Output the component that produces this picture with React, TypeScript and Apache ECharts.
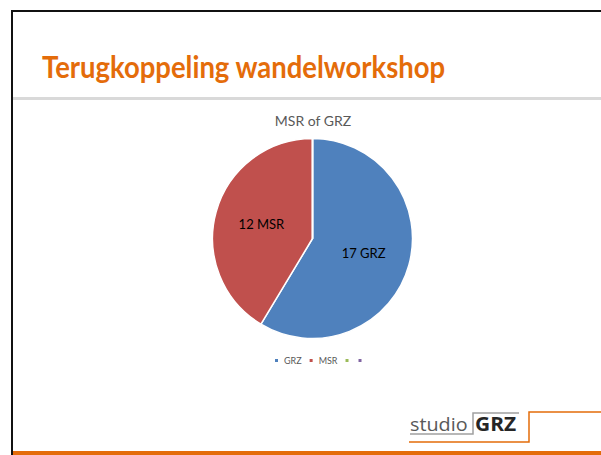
import React, { useEffect, useRef } from "react";
import * as echarts from "echarts";

const slideTitle = "Terugkoppeling wandelworkshop";
const chartTitle = "MSR of GRZ";
const categories = ["GRZ", "MSR", "", ""];
const values = [17, 12, 0, 0];
const colors = ["#4F81BD", "#C0504D", "#9BBB59", "#8064A2"];

const ORANGE = "#E46C0A";

export default function App() {
  const ref = useRef<HTMLDivElement>(null);
  useEffect(() => {
    if (!ref.current) return;
    const chart = echarts.init(ref.current, undefined, { renderer: "svg" });
    const names = categories.map((c, i) => (c ? c : `_${i}`));
    const data = values.map((v, i) => ({
      name: names[i],
      value: v,
      itemStyle: { color: colors[i] },
      label: { show: v > 0 },
      labelLine: { show: false },
    }));
    chart.setOption({
      animation: false,
      backgroundColor: "#ffffff",
      legend: {
        data: names,
        left: 268,
        top: 351,
        itemWidth: 5,
        itemHeight: 5,
        itemGap: 6,
        icon: "rect",
        selectedMode: false,
        formatter: (n: string) => (n.startsWith("_") ? "" : n),
        textStyle: { fontSize: 9, color: "#595959", fontFamily: "Lato" },
      },
      series: [
        {
          type: "pie",
          center: [312.5, 238.5],
          radius: 100,
          startAngle: 90,
          clockwise: true,
          avoidLabelOverlap: false,
          silent: true,
          itemStyle: { borderColor: "#ffffff", borderWidth: 1.5 },
          label: {
            position: "inside",
            formatter: "{c} {b}",
            color: "#000000",
            fontSize: 13,
            fontFamily: "Lato",
          },
          labelLine: { show: false },
          data,
        },
      ],
      graphic: [
        { type: "line", shape: { x1: 11, y1: 11, x2: 601, y2: 11 }, style: { stroke: "#111", lineWidth: 2 } },
        { type: "line", shape: { x1: 12, y1: 10, x2: 12, y2: 455 }, style: { stroke: "#111", lineWidth: 2 } },
        { type: "line", shape: { x1: 13, y1: 98.5, x2: 601, y2: 98.5 }, style: { stroke: "#D9D9D9", lineWidth: 3 } },
        { type: "rect", shape: { x: 13, y: 451, width: 588, height: 4 }, style: { fill: ORANGE } },
        {
          type: "text",
          x: 42,
          y: 67,
          scaleX: 0.915,
          style: {
            text: slideTitle,
            x: 0,
            y: 0,
            font: "bold 30px Lato",
            fill: ORANGE,
            textAlign: "left",
            textVerticalAlign: "middle",
            align: "left",
            verticalAlign: "middle",
          },
        },
        {
          type: "text",
          style: {
            text: chartTitle,
            x: 313,
            y: 120,
            font: "14px Lato",
            fill: "#595959",
            textAlign: "center",
            textVerticalAlign: "middle",
            align: "center",
            verticalAlign: "middle",
          },
        },
        {
          type: "polyline",
          shape: { points: [[409, 442], [529, 442], [529, 412], [601, 412]] },
          style: { stroke: ORANGE, lineWidth: 1.5, fill: null },
        },
        {
          type: "polyline",
          shape: { points: [[410, 434], [473, 434], [473, 413], [519, 413]] },
          style: { stroke: "#A0A0A0", lineWidth: 1.5, fill: null },
        },
        {
          type: "text",
          x: 410,
          y: 424,
          scaleX: 1.1,
          style: {
            text: "studio",
            x: 0,
            y: 0,
            font: "18px 'Open Sans'",
            fill: "#595959",
            textAlign: "left",
            textVerticalAlign: "middle",
            align: "left",
            verticalAlign: "middle",
          },
        },
        {
          type: "text",
          x: 475,
          y: 424,
          scaleX: 1.1,
          style: {
            text: "GRZ",
            x: 0,
            y: 0,
            font: "bold 19px 'Open Sans'",
            fill: "#262626",
            textAlign: "left",
            textVerticalAlign: "middle",
            align: "left",
            verticalAlign: "middle",
          },
        },
      ],
    });
    return () => chart.dispose();
  }, []);
  return (
    <div
      ref={ref}
      style={{ position: "fixed", left: 0, top: 0, width: 601, height: 455 }}
    />
  );
}
